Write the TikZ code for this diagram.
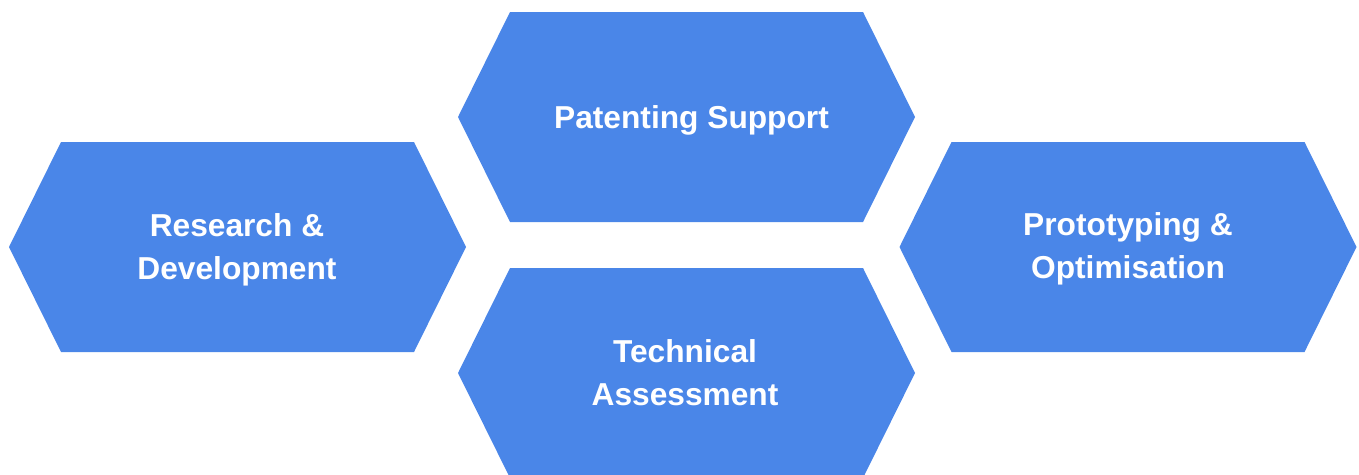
\documentclass[tikz,border=0pt]{standalone}
\usepackage{fontspec}
\setmainfont{Liberation Sans}
\definecolor{hexblue}{HTML}{4A86E8}
\tikzset{
  hexfill/.style={fill=hexblue, draw=none},
  hexlabel/.style={text=white, align=center, font=\bfseries\fontsize{31.7}{43}\selectfont, inner sep=0pt}
}
\newcommand{\hexat}[2]{% center x, center y (pixels, y downward)
  \fill[hexfill] ({#1-228.5},{#2}) -- ({#1-176.5},{#2-105}) -- ({#1+176.5},{#2-105}) -- ({#1+228.5},{#2}) -- ({#1+176.5},{#2+105}) -- ({#1-176.5},{#2+105}) -- cycle;
}
\begin{document}
\begin{tikzpicture}[x=1pt,y=-1pt]
\useasboundingbox (0,0) rectangle (1359,474);
\hexat{237.5}{247}
\hexat{686.5}{117}
\hexat{686.5}{373}
\hexat{1128}{247}
\node[hexlabel] (rd) at (237,250) {Research \&\\Development};
\node[hexlabel] (ps) at (691.5,120) {Patenting Support};
\node[hexlabel] (ta) at (685,373) {Technical\\Assessment};
\node[hexlabel] (po) at (1128,249) {Prototyping \&\\Optimisation};
\end{tikzpicture}
\end{document}
